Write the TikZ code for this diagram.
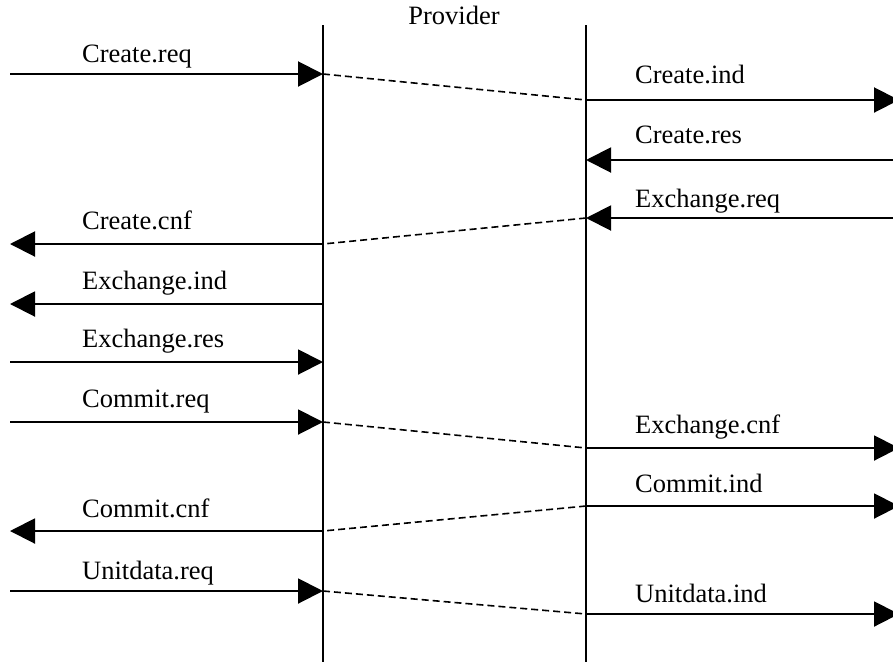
\documentclass[tikz,border=0pt]{standalone}
\usepackage{fontspec}
\setmainfont{Liberation Serif}
\usetikzlibrary{arrows.meta}
\begin{document}
\begin{tikzpicture}[x=1pt,y=-1pt,
  lifeline/.style={line width=1.8pt},
  msg/.style={line width=2pt,-{Triangle[length=25pt,width=25pt]}},
  link/.style={line width=1.6pt,dash pattern=on 7pt off 4pt},
  lbl/.style={anchor=base west,inner sep=0pt,font=\fontsize{26.5}{30}\selectfont}]
\useasboundingbox (0,0) rectangle (893,662);
\clip (0,0) rectangle (893,662);
% lifelines
\coordinate (Ltop) at (323,25); \coordinate (Lbot) at (323,662);
\coordinate (Rtop) at (586,25); \coordinate (Rbot) at (586,662);
\draw[lifeline] (Ltop) -- (Lbot);
\draw[lifeline] (Rtop) -- (Rbot);
\node[lbl,anchor=base] (prov) at (454,24) {Provider};
% endpoints
\foreach \n/\y in {creq/74,ccnf/244,xind/304,xres/362,mreq/422,mcnf/531,ureq/591}{
  \coordinate (\n O) at (10,\y); \coordinate (\n L) at (323,\y);}
\foreach \n/\y in {cind/100,cres/160,xreq/218,xcnf/448,mind/506,uind/614}{
  \coordinate (\n R) at (586,\y); \coordinate (\n O) at (899,\y);}
% left messages
\draw[msg] (creqO) -- (creqL);
\draw[msg] (ccnfL) -- (ccnfO);
\draw[msg] (xindL) -- (xindO);
\draw[msg] (xresO) -- (xresL);
\draw[msg] (mreqO) -- (mreqL);
\draw[msg] (mcnfL) -- (mcnfO);
\draw[msg] (ureqO) -- (ureqL);
% right messages
\draw[msg] (cindR) -- (cindO);
\draw[msg] (cresO) -- (cresR);
\draw[msg] (xreqO) -- (xreqR);
\draw[msg] (xcnfR) -- (xcnfO);
\draw[msg] (mindR) -- (mindO);
\draw[msg] (uindR) -- (uindO);
% provider links
\draw[link] (creqL) -- (cindR);
\draw[link] (xreqR) -- (ccnfL);
\draw[link] (mreqL) -- (xcnfR);
\draw[link] (mindR) -- (mcnfL);
\draw[link] (ureqL) -- (uindR);
% labels
\node[lbl] (t1) at (82,62) {Create.req};
\node[lbl] (t2) at (82,229) {Create.cnf};
\node[lbl] (t3) at (82,289) {Exchange.ind};
\node[lbl] (t4) at (82,347) {Exchange.res};
\node[lbl] (t5) at (82,407) {Commit.req};
\node[lbl] (t6) at (82,517) {Commit.cnf};
\node[lbl] (t7) at (82,579) {Unitdata.req};
\node[lbl] (t8) at (635,83) {Create.ind};
\node[lbl] (t9) at (635,143) {Create.res};
\node[lbl] (t10) at (635,207) {Exchange.req};
\node[lbl] (t11) at (635,433) {Exchange.cnf};
\node[lbl] (t12) at (635,492) {Commit.ind};
\node[lbl] (t13) at (635,602) {Unitdata.ind};
\end{tikzpicture}
\end{document}
